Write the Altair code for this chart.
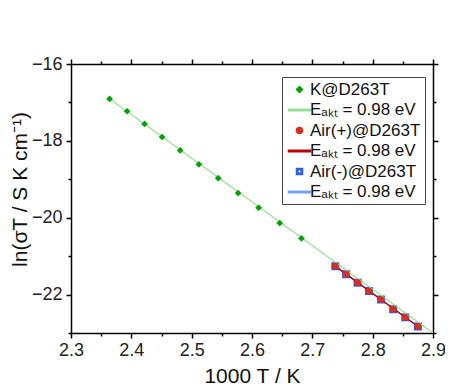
import altair as alt
import pandas as pd

# ---- data ----
k_x = [2.364, 2.393, 2.422, 2.451, 2.481, 2.512, 2.544, 2.577, 2.611, 2.646, 2.682]
k_y = [-16.91, -17.23, -17.56, -17.90, -18.25, -18.61, -18.97, -19.36, -19.74, -20.14, -20.54]
air_x = [2.738, 2.756, 2.775, 2.794, 2.814, 2.834, 2.854, 2.875]
airp_y = [-21.26, -21.47, -21.69, -21.91, -22.13, -22.38, -22.59, -22.83]
airm_y = [-21.26, -21.47, -21.69, -21.91, -22.13, -22.38, -22.59, -22.83]
fit_k_x = [2.36, 2.90]
fit_k_y = [-16.86, -23.0]
fit_air_x = [2.738, 2.875]
fit_air_y = [-21.26, -22.83]

series = ["K@D263T", "fitK", "Air(+)@D263T", "fitP", "Air(-)@D263T", "fitM"]
colors = ["#00a000", "#98dc98", "#d83020", "#b80000", "#2a5ee8", "#78a0f0"]
fit_label = "E\u2090\u2096\u209c = 0.98 eV"

x_ticks = [round(2.3 + 0.05 * i, 2) for i in range(13)]
y_ticks = list(range(-23, -15))

FONT = "Liberation Sans"

# ---- tables ----
kdf = pd.DataFrame({"x": k_x, "y": k_y, "series": "K@D263T"})
pdf = pd.DataFrame({"x": air_x, "y": airp_y, "series": "Air(+)@D263T"})
mdf = pd.DataFrame({"x": air_x, "y": airm_y, "series": "Air(-)@D263T"})
fits = pd.concat([
    pd.DataFrame({"x": fit_k_x, "y": fit_k_y, "series": "fitK"}),
    pd.DataFrame({"x": fit_air_x, "y": fit_air_y, "series": "fitM"}),
    pd.DataFrame({"x": fit_air_x, "y": fit_air_y, "series": "fitP"}),
])
filled_pts = pd.concat([kdf, pdf])

# filled symbol paths (unit coords): thin bar for fit lines, hollow ring for open square
line_path = "M-3.67,-0.25H3.67V0.25H-3.67Z"
ring_path = "M-1,-1H1V1H-1Z M-0.55,-0.55V0.55H0.55V-0.55Z"
shapes = ["diamond", line_path, "circle", line_path, ring_path, line_path]

xs = alt.Scale(domain=[2.3, 2.9], nice=False, zero=False)
ys = alt.Scale(domain=[-23, -16], nice=False, zero=False)
cs = alt.Scale(domain=series, range=colors)
ss = alt.Scale(domain=series, range=shapes)

major_x = "round(datum.value*20) % 2 == 0"
major_y = "datum.value % 2 == 0"

common_axis = dict(grid=False, domainColor="black", domainWidth=1.5, tickColor="black",
                   tickWidth=1.5, labelFont=FONT, titleFont=FONT, labelFontSize=18,
                   titleFontSize=21, titleFontWeight="normal", labelColor="#222",
                   titleColor="#111")

x_bottom = alt.Axis(orient="bottom", values=x_ticks,
                    labelExpr=f"{major_x} ? format(datum.value, '.1f') : ''",
                    tickSize={"condition": {"test": major_x, "value": 5}, "value": 3},
                    labelFlush=False, labelOverlap=False, labelPadding=3,
                    title="1000 T / K", titlePadding=6, **common_axis)
x_top = alt.Axis(orient="top", values=x_ticks, labels=False, title=None,
                 tickSize={"condition": {"test": major_x, "value": 5}, "value": 3},
                 **common_axis)
y_left = alt.Axis(orient="left", values=y_ticks,
                  labelExpr=f"{major_y} ? format(datum.value, 'd') : ''",
                  tickSize={"condition": {"test": major_y, "value": 5}, "value": 3},
                  labelOverlap=False, labelPadding=4,
                  title="ln(\u03c3T / S K cm\u207b\u00b9)", titleX=-41, titleY=125,
                  **common_axis)
y_right = alt.Axis(orient="right", values=y_ticks, labels=False, title=None,
                   tickSize={"condition": {"test": major_y, "value": 5}, "value": 3},
                   **common_axis)

legend = alt.Legend(
    title=None, orient="none", legendX=211, legendY=13, padding=4,
    strokeColor="#444", fillColor="white", labelFont=FONT, labelFontSize=17,
    labelColor="#111", symbolSize=36, symbolOffset=5, labelOffset=2, rowPadding=2.5,
    symbolOpacity=1,
    labelExpr=f"indexof(datum.label, 'fit') === 0 ? '{fit_label}' : datum.label",
)

# open squares (first layer: carries the shared legend)
squares = alt.Chart(mdf).mark_point(filled=True, size=64, opacity=1).encode(
    x=alt.X("x:Q", scale=xs, axis=None),
    y=alt.Y("y:Q", scale=ys, axis=None),
    color=alt.Color("series:N", scale=cs, legend=legend),
    shape=alt.Shape("series:N", scale=ss, legend=legend),
)

green_line = alt.Chart(fits[fits.series == "fitK"]).mark_line(strokeWidth=1.1, clip=True).encode(
    x=alt.X("x:Q", scale=xs, axis=x_bottom),
    y=alt.Y("y:Q", scale=ys, axis=y_left),
    color=alt.Color("series:N", scale=cs, legend=None),
)

air_lines = alt.Chart(fits[fits.series != "fitK"]).mark_line(strokeWidth=1.3, clip=True).encode(
    x=alt.X("x:Q", scale=xs, axis=None),
    y=alt.Y("y:Q", scale=ys, axis=None),
    color=alt.Color("series:N", scale=cs, legend=None),
    detail="series:N",
)

points = alt.Chart(filled_pts).mark_point(filled=True, size=45, opacity=1).encode(
    x=alt.X("x:Q", scale=xs, axis=None),
    y=alt.Y("y:Q", scale=ys, axis=None),
    color=alt.Color("series:N", scale=cs, legend=None),
    shape=alt.Shape("series:N", scale=ss, legend=None),
)

frame = alt.Chart(fits).mark_point(opacity=0).encode(
    x=alt.X("x:Q", scale=xs, axis=x_top),
    y=alt.Y("y:Q", scale=ys, axis=y_right),
)

chart = alt.layer(squares, green_line, air_lines, points, frame).properties(
    width=362, height=269,
    padding={"left": 63, "top": 56, "right": 12, "bottom": 52},
    autosize=alt.AutoSizeParams(type="none"),
).configure_view(stroke=None).configure(background="white")

chart.save("out.html", embed_options={"renderer": "svg", "actions": False})
